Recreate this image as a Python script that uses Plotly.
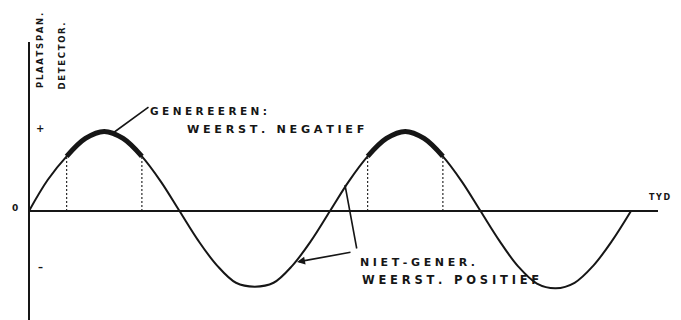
import plotly.graph_objects as go

# Time axis in periods (one sample every sixteenth of a period)
time_periods = [0.0, 0.0625, 0.125, 0.1875, 0.25, 0.3125, 0.375, 0.4375, 0.5,
                0.5625, 0.625, 0.6875, 0.75, 0.8125, 0.875, 0.9375, 1.0,
                1.0625, 1.125, 1.1875, 1.25, 1.3125, 1.375, 1.4375, 1.5,
                1.5625, 1.625, 1.6875, 1.75, 1.8125, 1.875, 1.9375, 2.0]

# Plate voltage at the detector (relative amplitude)
plate_voltage = [0.00, 0.40, 0.70, 0.93, 1.02, 0.93, 0.70, 0.38, 0.00,
                 -0.38, -0.70, -0.92, -0.97, -0.92, -0.70, -0.38, 0.00,
                 0.38, 0.70, 0.93, 1.02, 0.93, 0.70, 0.38, 0.00,
                 -0.38, -0.71, -0.93, -0.99, -0.92, -0.70, -0.38, 0.00]

# Index ranges of the samples where the valve generates (negative resistance)
generating_spans = [(2, 6), (18, 22)]

# Label texts
y_title = ["PLAATSPAN.", "DETECTOR."]
x_title = "TYD"
gen_label = ["GENEREEREN:", "WEERST. NEGATIEF"]
nongen_label = ["NIET-GENER.", "WEERST. POSITIEF"]

INK = "#161616"
FONT = "DejaVu Sans"

# pixel layout of the drawing
W, H = 681, 320
ORIGIN_X, ORIGIN_Y = 29, 211
PX_PER_PERIOD = 301
PX_PER_UNIT = 78


def X(px):
    return (px - ORIGIN_X) / PX_PER_PERIOD


def Y(py):
    return (ORIGIN_Y - py) / PX_PER_UNIT


def spaced(s, sep="\u2004"):
    return sep.join(s)


fig = go.Figure()

# main curve
fig.add_trace(go.Scatter(
    x=time_periods, y=plate_voltage, mode="lines",
    line=dict(color=INK, width=2, shape="spline", smoothing=1.0),
    hoverinfo="skip"))

# heavier stroke over the generating parts, with dashed drop lines
for a, b in generating_spans:
    fig.add_trace(go.Scatter(
        x=time_periods[a:b + 1], y=plate_voltage[a:b + 1], mode="lines",
        line=dict(color=INK, width=5, shape="spline", smoothing=1.0),
        hoverinfo="skip"))
    for i in (a, b):
        fig.add_trace(go.Scatter(
            x=[time_periods[i], time_periods[i]], y=[0, plate_voltage[i]],
            mode="lines", line=dict(color="#2a2a2a", width=1.2, dash="2px,2px"),
            hoverinfo="skip"))

# axes drawn as plain strokes
fig.add_shape(type="line", x0=0, x1=0, y0=Y(320), y1=Y(42),
              line=dict(color=INK, width=2))
fig.add_shape(type="line", x0=0, x1=X(658), y0=0, y1=0,
              line=dict(color=INK, width=2))

ann = []


def text(px, py, s, size, angle=0, xanchor="left"):
    ann.append(dict(x=X(px), y=Y(py), xref="x", yref="y", text=s,
                    showarrow=False, textangle=angle, xanchor=xanchor,
                    yanchor="middle",
                    font=dict(family=FONT, size=size, color=INK, weight="bold")))


def pointer(hx, hy, tx, ty, head=0):
    ann.append(dict(x=X(hx), y=Y(hy), ax=X(tx), ay=Y(ty), xref="x", yref="y",
                    axref="x", ayref="y", text="", showarrow=True,
                    arrowhead=head, arrowsize=1, arrowwidth=1.6,
                    arrowcolor=INK, standoff=0, startstandoff=0))


# vertical axis title
text(40, 51, spaced(y_title[0], "\u2009"), 8.5, angle=-90, xanchor="center")
text(61.5, 56, spaced(y_title[1], "\u2009"), 8.5, angle=-90, xanchor="center")

# axis marks
text(15, 208, "0", 9, xanchor="center")
text(40, 128, "+", 10, xanchor="center")
text(40, 267, "\u2013", 10, xanchor="center")
text(647, 197, spaced(x_title, "\u2009"), 8)

# annotation: generating part
text(148, 111, spaced(gen_label[0]), 10.5)
text(185, 129, spaced(gen_label[1]), 11.2)
pointer(113, 133, 150, 106)

# annotation: non-generating part
text(358, 262, spaced(nongen_label[0]), 11)
text(360, 280, spaced(nongen_label[1]), 11.5)
pointer(345, 185, 357, 250)
pointer(297, 262, 352, 252, head=2)

fig.update_layout(
    width=W, height=H,
    margin=dict(l=0, r=0, t=0, b=0),
    paper_bgcolor="white", plot_bgcolor="white",
    showlegend=False,
    annotations=ann,
    xaxis=dict(range=[X(0), X(W)], visible=False, fixedrange=True),
    yaxis=dict(range=[Y(H), Y(0)], visible=False, fixedrange=True),
)

fig.write_html("out.html")
